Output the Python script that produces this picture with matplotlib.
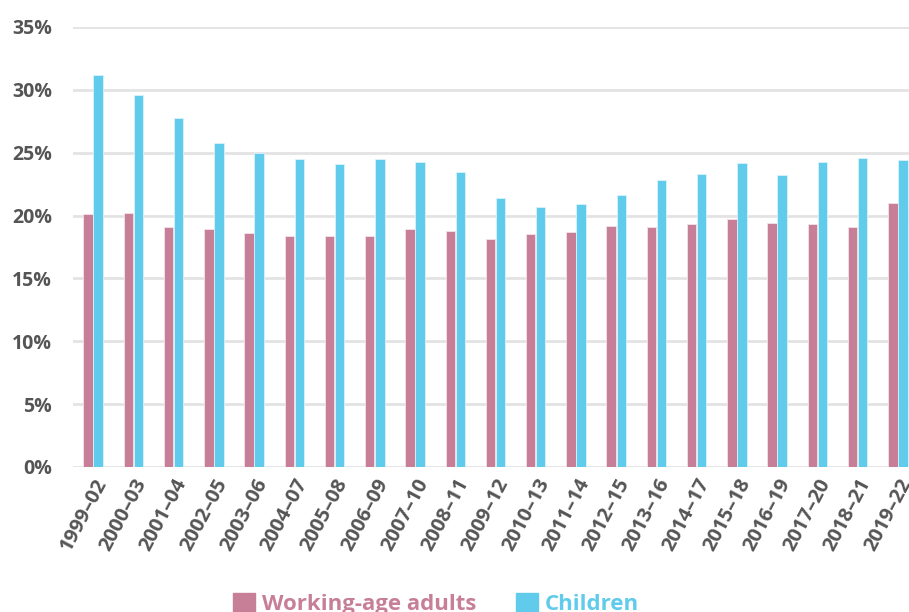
import matplotlib
matplotlib.use('Agg')
import matplotlib.pyplot as plt
import numpy as np
from matplotlib.patches import Patch

plt.rcParams['font.family'] = ['Open Sans', 'DejaVu Sans']

# Data: share below poverty line, by 3-year period
periods = ['1999–02', '2000–03', '2001–04', '2002–05', '2003–06', '2004–07',
           '2005–08', '2006–09', '2007–10', '2008–11', '2009–12', '2010–13',
           '2011–14', '2012–15', '2013–16', '2014–17', '2015–18', '2016–19',
           '2017–20', '2018–21', '2019–22']
adults = [20.1, 20.2, 19.1, 18.9, 18.6, 18.4, 18.4, 18.4, 18.9, 18.8, 18.1,
          18.5, 18.7, 19.2, 19.1, 19.3, 19.7, 19.4, 19.3, 19.1, 21.0]
children = [31.2, 29.6, 27.8, 25.8, 25.0, 24.5, 24.1, 24.5, 24.3, 23.5, 21.4,
            20.7, 20.9, 21.6, 22.8, 23.3, 24.2, 23.2, 24.3, 24.6, 24.4]
yticks = [0, 5, 10, 15, 20, 25, 30, 35]

pink = '#c77f98'
cyan = '#60cbeb'
grey = '#555555'

fig = plt.figure(figsize=(9.09, 6.12), dpi=100)
ax = fig.add_axes([73 / 909, 145 / 612, (918 - 73) / 909, 440 / 612])

x = np.arange(len(periods))
w = 0.235
ax.bar(x - 0.125, adults, width=w, color=pink, edgecolor='#f3e3e9', linewidth=0.6, zorder=3)
ax.bar(x + 0.125, children, width=w, color=cyan, edgecolor='#d9f3fb', linewidth=0.6, zorder=3)

ax.set_xlim(-0.5, 20.5)
ax.set_ylim(0, 35)
ax.set_yticks(yticks)
ax.set_yticklabels([f'{v}%' for v in yticks], fontsize=14, fontweight='bold', color=grey)
ax.yaxis.grid(True, color='#e3e3e3', linewidth=2, zorder=0)
ax.set_axisbelow(True)
ax.tick_params(axis='y', length=0, pad=15)
ax.tick_params(axis='x', length=0, pad=6)
ax.set_xticks(x)
ax.set_xticklabels(periods, rotation=62, ha='right', rotation_mode='anchor',
                   fontsize=14.5, fontweight='bold', color=grey)
for s in ax.spines.values():
    s.set_visible(False)

handles = [Patch(color=pink), Patch(color=cyan)]
leg = fig.legend(handles, ['Working-age adults', 'Children'], loc='center',
                 bbox_to_anchor=(436 / 909, 8 / 612), ncol=2, frameon=False,
                 fontsize=16, handlelength=1.0, handleheight=1.0,
                 handletextpad=0.3, columnspacing=1.8)
for t, c in zip(leg.get_texts(), [pink, cyan]):
    t.set_color(c)
    t.set_fontweight('bold')

fig.savefig('out.png', dpi=100)
